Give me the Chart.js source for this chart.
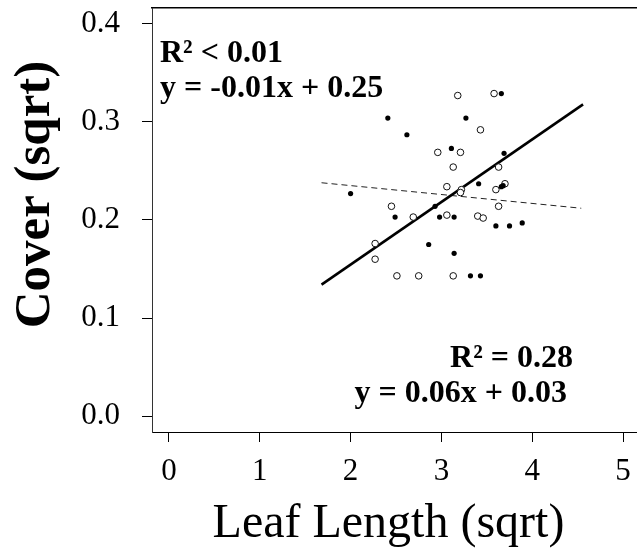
<!DOCTYPE html>
<html>
<head>
<meta charset="utf-8">
<script src="https://cdn.jsdelivr.net/npm/chart.js@4/dist/chart.umd.min.js"></script>
<style>
  html, body { margin: 0; padding: 0; background: #ffffff; }
  #wrap { width: 637px; height: 556px; }
</style>
</head>
<body>
<div id="wrap"><canvas id="c" width="637" height="556"></canvas></div>
<script>
// ---- data ----
const filledX = [3.66, 2.41, 3.27, 2.62, 3.11, 3.69, 2.00, 3.41, 3.66, 3.68, 2.93, 2.49, 2.98, 3.14, 3.60, 3.75, 3.89, 2.86, 3.14, 3.32, 3.43];
const filledY = [0.329, 0.304, 0.304, 0.287, 0.273, 0.268, 0.227, 0.237, 0.234, 0.235, 0.214, 0.203, 0.203, 0.203, 0.194, 0.194, 0.197, 0.175, 0.166, 0.143, 0.143];
const openX = [3.18, 3.58, 3.43, 2.96, 3.21, 3.13, 3.63, 3.06, 3.22, 3.21, 3.60, 3.70, 2.45, 3.63, 2.69, 3.06, 3.40, 3.46, 2.27, 2.27, 2.51, 2.75, 3.13];
const openY = [0.327, 0.329, 0.292, 0.269, 0.269, 0.254, 0.254, 0.234, 0.231, 0.228, 0.231, 0.237, 0.214, 0.214, 0.203, 0.205, 0.204, 0.202, 0.176, 0.160, 0.143, 0.143, 0.143];
const solidFitX = [1.68, 4.56];
const solidFitY = [0.134, 0.318];
const dashedFitX = [1.68, 4.54];
const dashedFitY = [0.238, 0.212];
const xTickValues = [0, 1, 2, 3, 4, 5];
const xTickLabels = ['0', '1', '2', '3', '4', '5'];
const yTickValues = [0, 0.1, 0.2, 0.3, 0.4];
const yTickLabels = ['0.0', '0.1', '0.2', '0.3', '0.4'];
const xTitle = 'Leaf Length (sqrt) ';
const yTitle = '    Cover (sqrt)';
const annotTopLines = ['R\u00B2 < 0.01', 'y = -0.01x + 0.25'];
const annotBottomLines = ['R\u00B2 = 0.28', 'y = 0.06x + 0.03'];

const pts = (xs, ys) => xs.map((x, i) => ({ x: x, y: ys[i] }));

const FONT = "'Liberation Serif', 'Times New Roman', serif";

function noPad(s) {
  s.paddingTop = 0; s.paddingBottom = 0; s.paddingLeft = 0; s.paddingRight = 0;
}

const annotPlugin = {
  id: 'annot',
  afterDatasetsDraw(chart) {
    const { ctx, chartArea } = chart;
    ctx.save();
    ctx.fillStyle = '#000';
    ctx.font = 'bold 32px ' + FONT;
    ctx.textBaseline = 'alphabetic';
    ctx.textAlign = 'left';
    ctx.fillText(annotTopLines[0], chartArea.left + 8, chartArea.top + 54);
    ctx.fillText(annotTopLines[1], chartArea.left + 8, chartArea.top + 89);
    ctx.textAlign = 'right';
    ctx.fillText(annotBottomLines[0], 573, 367);
    ctx.fillText(annotBottomLines[1], 567, 402);
    ctx.restore();
  }
};

new Chart(document.getElementById('c'), {
  type: 'scatter',
  data: {
    datasets: [
      {
        label: 'filled',
        data: pts(filledX, filledY),
        pointRadius: 2.6,
        pointBackgroundColor: '#000',
        pointBorderWidth: 0,
        showLine: false,
        order: 1
      },
      {
        label: 'open',
        data: pts(openX, openY),
        pointRadius: 3.3,
        pointBackgroundColor: '#fff',
        pointBorderColor: '#111',
        pointBorderWidth: 1,
        showLine: false,
        order: 2
      },
      {
        label: 'fit solid',
        data: pts(solidFitX, solidFitY),
        showLine: true,
        borderColor: '#000',
        borderWidth: 2.6,
        pointRadius: 0,
        order: 3
      },
      {
        label: 'fit dashed',
        data: pts(dashedFitX, dashedFitY),
        showLine: true,
        borderColor: '#222',
        borderWidth: 1,
        borderDash: [6, 4],
        pointRadius: 0,
        order: 4
      }
    ]
  },
  options: {
    responsive: false,
    animation: false,
    layout: { padding: 0, autoPadding: false },
    plugins: {
      legend: { display: false },
      tooltip: { enabled: false }
    },
    scales: {
      x: {
        type: 'linear',
        position: 'bottom',
        min: -0.187,
        max: 5.154,
        afterBuildTicks: s => { s.ticks = xTickValues.map(v => ({ value: v })); },
        afterFit: s => { s.height = 124; noPad(s); },
        ticks: {
          callback: (v) => xTickLabels[xTickValues.indexOf(v)],
          color: '#000',
          padding: 11,
          maxRotation: 0,
          font: { family: FONT, size: 31 }
        },
        grid: { drawOnChartArea: false, drawTicks: true, tickLength: 10, color: '#000', tickWidth: 1 },
        border: { display: true, color: '#000', width: 1 },
        title: {
          display: true,
          text: xTitle,
          color: '#000',
          padding: { top: 0, bottom: 3 },
          font: { family: FONT, size: 48, weight: 'normal' }
        }
      },
      x2: {
        type: 'linear',
        position: 'top',
        min: -0.187,
        max: 5.154,
        afterFit: s => { s.height = 8; noPad(s); },
        ticks: { display: false },
        grid: { drawOnChartArea: false, drawTicks: false },
        border: { display: true, color: '#000', width: 1.5 }
      },
      y: {
        type: 'linear',
        position: 'left',
        min: -0.0163,
        max: 0.4163,
        afterBuildTicks: s => { s.ticks = yTickValues.map(v => ({ value: v })); },
        afterFit: s => { s.width = 152; noPad(s); },
        ticks: {
          callback: (v) => yTickLabels[yTickValues.findIndex(t => Math.abs(t - v) < 1e-9)],
          color: '#000',
          padding: 22,
          font: { family: FONT, size: 31 }
        },
        grid: { drawOnChartArea: false, drawTicks: true, tickLength: 10, color: '#000', tickWidth: 1 },
        border: { display: true, color: '#333', width: 1 },
        title: {
          display: true,
          text: yTitle,
          color: '#000',
          padding: { top: 5, bottom: 0 },
          font: { family: FONT, size: 51, weight: 'bold' }
        }
      }
    }
  },
  plugins: [annotPlugin]
});
</script>
</body>
</html>
